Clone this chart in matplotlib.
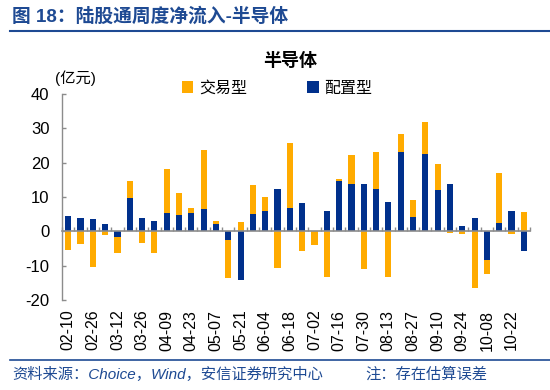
import numpy as np
import matplotlib
matplotlib.use("Agg")
import matplotlib.pyplot as plt

plt.rcParams['font.family'] = ['Liberation Sans', 'Noto Sans CJK SC', 'DejaVu Sans']

weeks = ["02-10", "02-19", "02-26", "03-05", "03-12", "03-19", "03-26", "04-02",
         "04-09", "04-16", "04-23", "04-30", "05-07", "05-14", "05-21", "05-28",
         "06-04", "06-11", "06-18", "06-25", "07-02", "07-09", "07-16", "07-23",
         "07-30", "08-06", "08-13", "08-20", "08-27", "09-03", "09-10", "09-17",
         "09-24", "10-01", "10-08", "10-15", "10-22", "10-29"]

# 配置型 (allocation) net inflow, 亿元
allocation = [4.6, 3.8, 3.6, 2.2, -1.65, 9.6, 4.0, 3.1, 5.4, 4.9, 5.3, 6.5,
              2.0, -2.6, -14.1, 5.1, 6.0, 12.2, 6.9, 8.3, 0.0, 5.8, 14.7, 13.7,
              13.8, 12.3, 8.5, 23.2, 4.2, 22.4, 12.1, 13.9, 1.6, 4.0, -8.4, 2.3,
              5.8, -5.6]
# 交易型 (trading) net inflow, 亿元
trading = [-5.3, -3.8, -10.5, -1.1, -4.65, 5.2, -3.4, -6.2, 12.9, 6.2, 1.4, 17.3,
           0.9, -10.9, 2.8, 8.5, 4.1, -10.8, 18.9, -5.6, -4.0, -13.3, 0.5, 8.5,
           -11.1, 10.8, -13.3, 5.1, 5.0, 9.4, 7.4, -0.5, -0.8, -16.4, -3.9, 14.8,
           -0.9, 5.5]

series_names = ["交易型", "配置型"]
yticks = [-20, -10, 0, 10, 20, 30, 40]

NAVY = "#00308C"
ORANGE = "#FFAB00"
BLUE_T = "#1E4A93"
GRAY = "#8C8C8C"

alloc = np.array(allocation)
trade = np.array(trading)
x = np.arange(len(weeks))
trade_bottom = np.where(np.sign(trade) == np.sign(alloc), alloc, 0.0)

fig = plt.figure(figsize=(5.5, 3.9), dpi=100)
ax = fig.add_axes([62 / 550, 1 - 300 / 390, 468 / 550, 206 / 390])

ax.bar(x, alloc, width=0.5, color=NAVY, label=series_names[1], zorder=2)
ax.bar(x, trade, width=0.5, bottom=trade_bottom, color=ORANGE, label=series_names[0], zorder=2)

ax.set_xlim(-0.5, len(weeks) - 0.5)
ax.set_ylim(-20, 40)
ax.set_yticks(yticks)
ax.set_yticklabels([str(v) for v in yticks])
ax.tick_params(axis='y', direction='in', length=3, width=1, color=GRAY, pad=9, labelsize=12)

for s in ['top', 'right']:
    ax.spines[s].set_visible(False)
ax.spines['left'].set_color(GRAY)
ax.spines['left'].set_linewidth(1)
ax.spines['bottom'].set_position(('data', 0))
ax.spines['bottom'].set_color(GRAY)
ax.spines['bottom'].set_linewidth(1.2)
ax.set_xticks([])
ax.set_xticks(np.arange(len(weeks) + 1) - 0.5, minor=True)
ax.tick_params(axis='x', which='minor', direction='in', length=3, width=1, color=GRAY)

sec = ax.secondary_xaxis('bottom')
sec.spines['bottom'].set_visible(False)
sec.set_xticks(x[::2])
sec.set_xticklabels(weeks[::2], rotation=90)
sec.tick_params(axis='x', length=0, pad=7, labelsize=11.5)

# legend
h, l = ax.get_legend_handles_labels()
leg = fig.legend(h[::-1], l[::-1], loc='center left', bbox_to_anchor=(182 / 550, 1 - 88 / 390),
                 ncol=2, frameon=False, fontsize=11.5, handlelength=0.7, handleheight=0.7,
                 handletextpad=0.35, columnspacing=3.8, borderaxespad=0, borderpad=0)

fig.text(290 / 550, 1 - 61 / 390, "半导体", ha='center', va='center', fontsize=13,
         fontweight='bold', family=['Noto Sans CJK SC'])
fig.text(55 / 550, 1 - 78 / 390, "(亿元)", ha='left', va='center', fontsize=11)

fig.text(12 / 550, 1 - 17 / 390, "图 18：陆股通周度净流入-半导体", ha='left', va='center',
         fontsize=13.5, fontweight='bold', color=BLUE_T,
         family=['Liberation Sans', 'Noto Sans CJK SC'])
fig.add_artist(plt.Line2D([10 / 550, 1], [1 - 31 / 390, 1 - 31 / 390], color=BLUE_T, lw=1.5))
fig.add_artist(plt.Line2D([10 / 550, 1], [1 - 360 / 390, 1 - 360 / 390], color=BLUE_T, lw=1.2))

fig.text(12 / 550, 1 - 374 / 390, "资料来源：Choice，Wind，安信证券研究中心", ha='left', va='center',
         fontsize=11, style='italic', color=BLUE_T)
fig.text(365 / 550, 1 - 374 / 390, "注：存在估算误差", ha='left', va='center',
         fontsize=11, style='italic', color=BLUE_T)

fig.savefig("out.png", dpi=100)
